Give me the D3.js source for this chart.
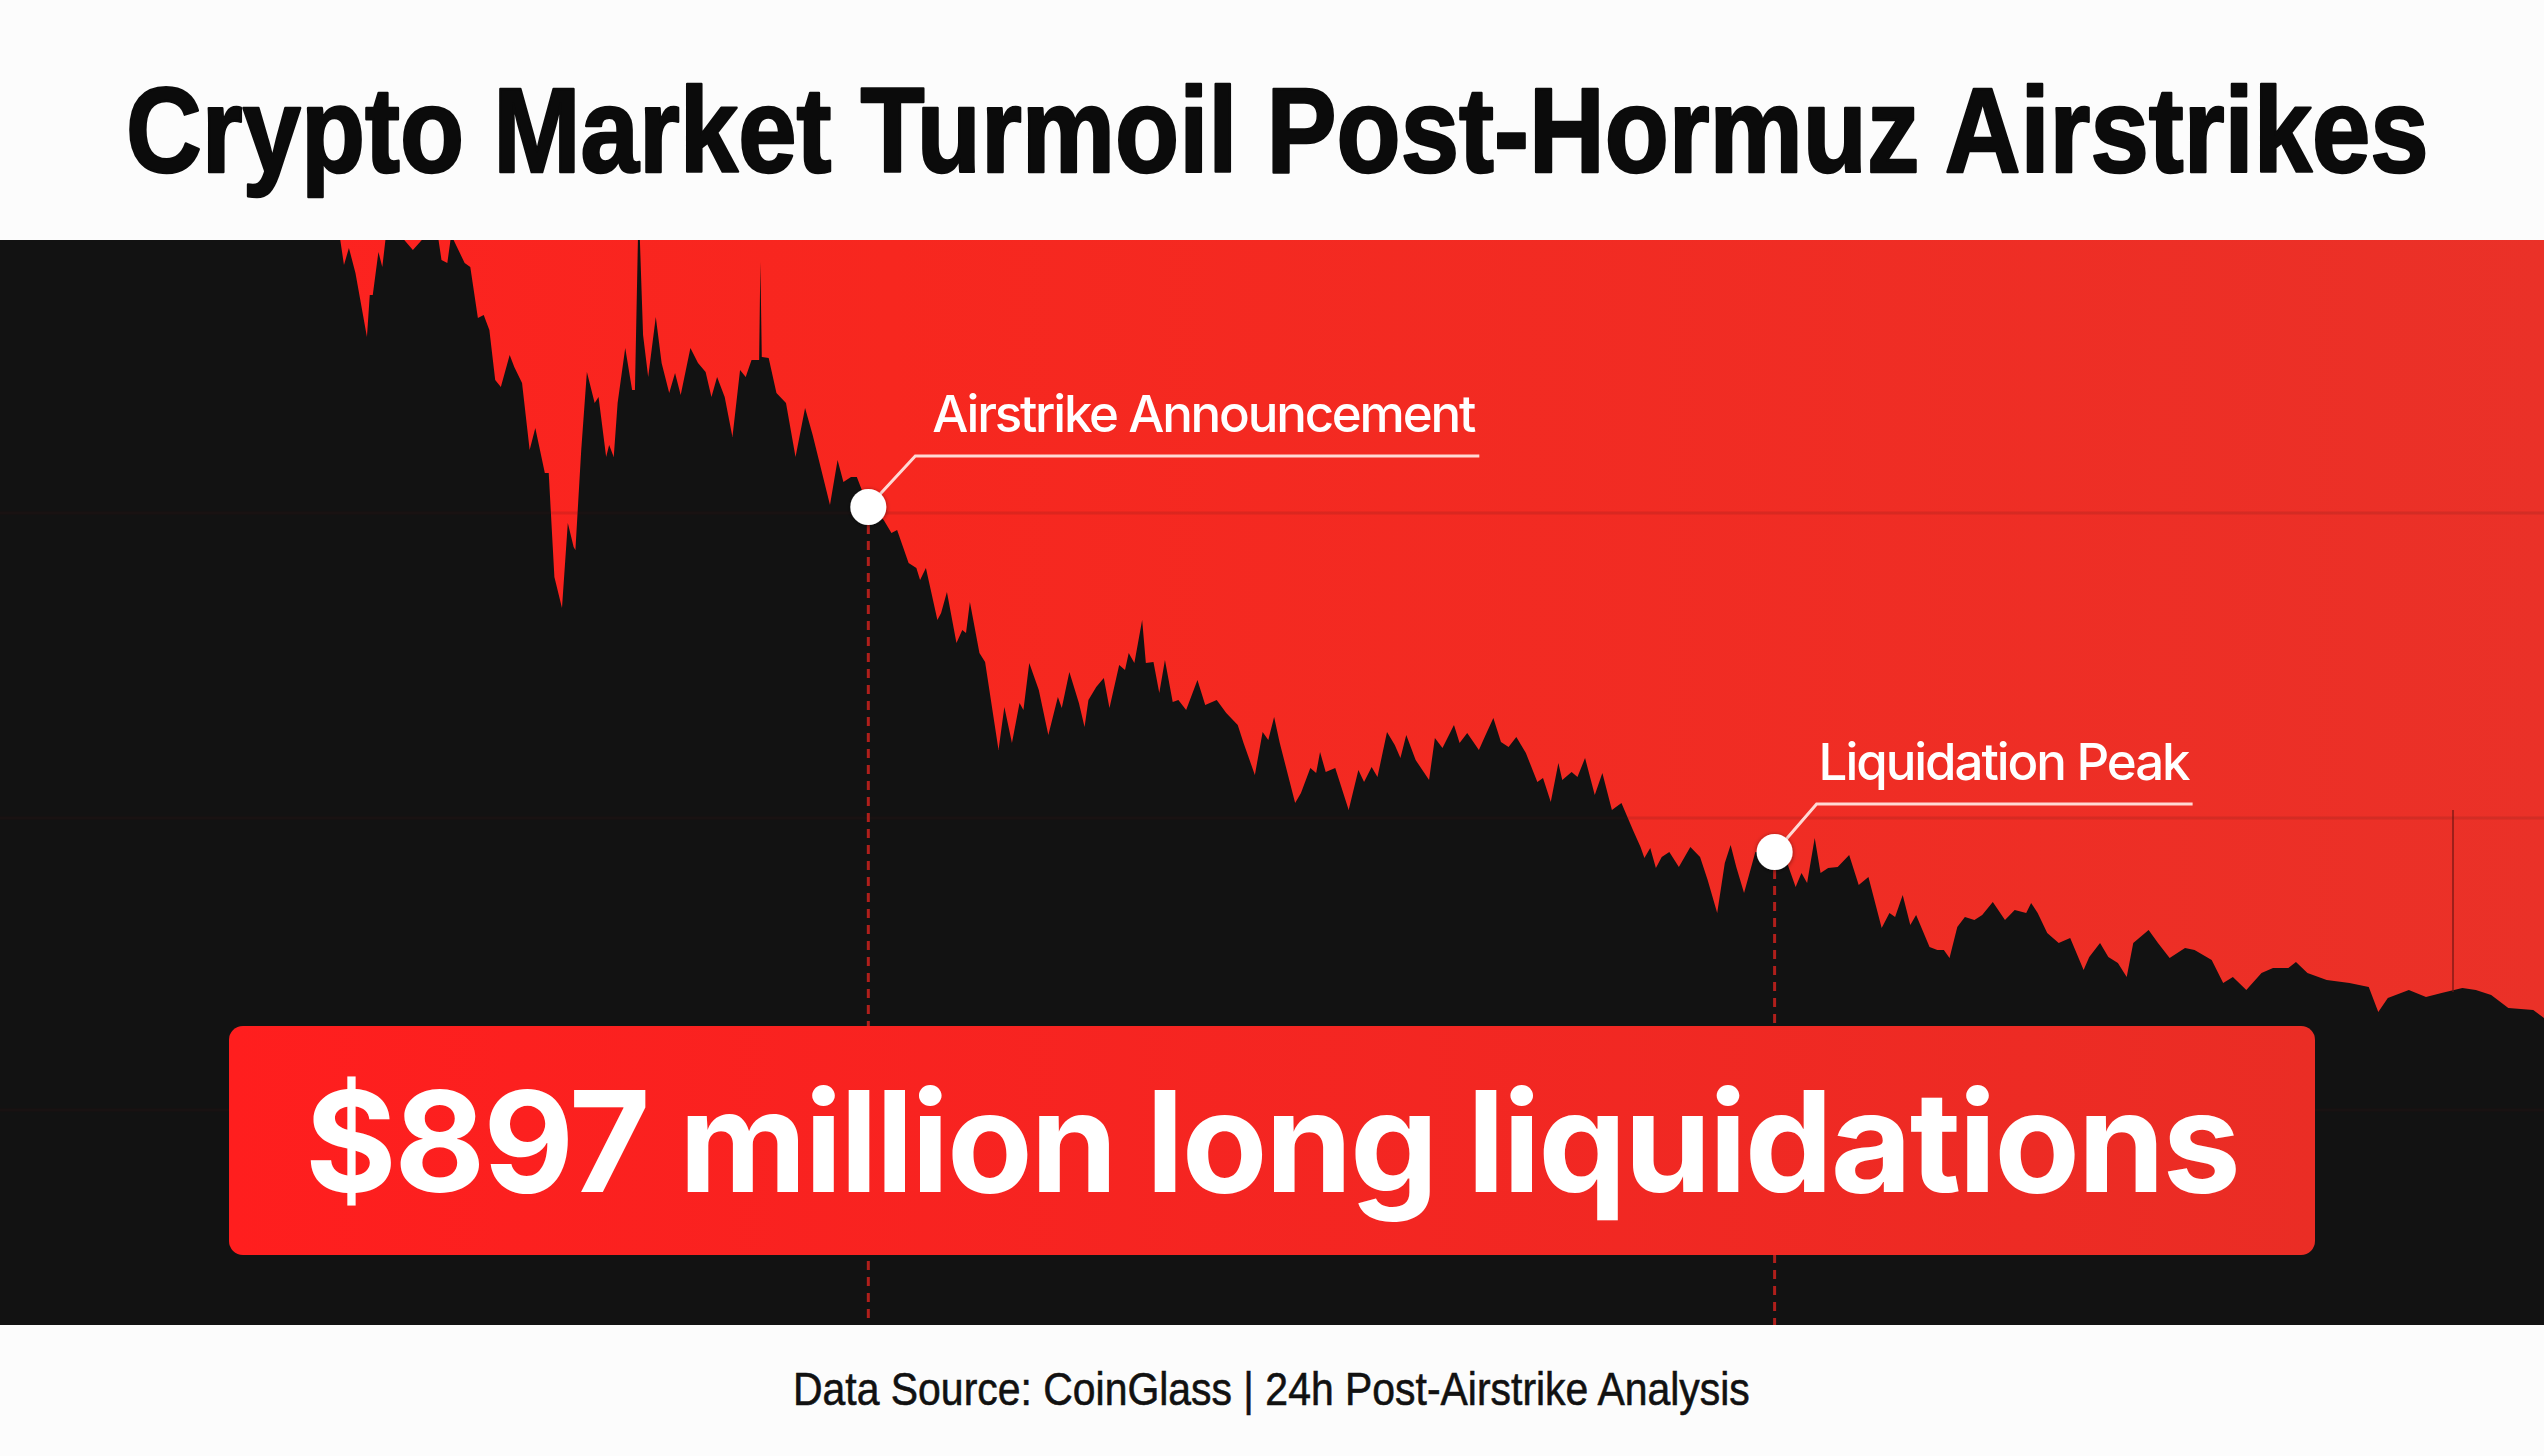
<!DOCTYPE html>
<html><head><meta charset="utf-8">
<script src="https://cdn.jsdelivr.net/npm/d3@7"></script>
<style>html,body{margin:0;padding:0;background:#fcfcfc;overflow:hidden}svg{display:block}</style>
</head><body><svg id="c" width="2544" height="1456"></svg>
<script>
// ---------------- DATA ----------------
const titleText = "Crypto Market Turmoil Post-Hormuz Airstrikes";
const footerText = "Data Source: CoinGlass | 24h Post-Airstrike Analysis";
const calloutText = "$897 million long liquidations";

// [minutes since window start, price USD]
const priceSeries = [
[0,70950],[170,70950],[191.3,70950],[192.6,70850],[194.7,70600],[197.5,70770],[201.2,70520],[207.7,69880],[209.3,70300],[211.0,70300],
[214.2,70730],[216.4,70580],[218.5,70900],[226.4,70900],[233.7,70750],[241.3,70900],[247.8,70900],[249.9,70650],[253.2,70620],[255.4,70900],
[263.0,70620],[266.2,70580],[270.5,70070],[273.8,70100],[277.0,69950],[280.3,69450],[283.5,69380],[288.5,69700],[291.1,69580],[295.5,69420],
[299.8,68750],[303.0,68970],[308.4,68520],[310.6,68520],[313.8,67480],[318.1,67170],[321.4,68020],[324.7,67780],[325.7,67750],[329.0,68750],
[332.2,69530],[336.6,69220],[338.8,69280],[343.1,68680],[344.8,68800],[347.4,68680],[349.6,69220],[353.9,69770],[357.8,69350],[359.4,69350],
[361.2,70950],[362.0,70950],[364.0,69900],[366.9,69480],[371.2,70080],[374.5,69620],[378.8,69320],[382.1,69520],[385.3,69300],[390.8,69770],
[395.1,69620],[399.4,69530],[402.7,69280],[405.9,69480],[410.2,69280],[414.6,68880],[418.9,69550],[422.1,69480],[425.4,69650],[429.7,69650],
[430.4,70630],[431.2,69680],[435.1,69670],[439.5,69320],[444.9,69220],[450.3,68680],[455.7,69170],[460.0,68900],[469.8,68200],[474.1,68650],
[477.4,68430],[481.7,68480],[485.0,68480],[491.5,68180],[500.2,68050],[504.6,67920],[507.8,67950],[514.3,67620],[518.7,67570],[520.8,67450],
[524.1,67570],[530.6,67050],[532.7,67120],[536.0,67330],[541.4,66820],[544.7,66950],[546.8,66920],[549.0,67230],[554.4,66720],[557.6,66630],
[565.2,65750],[568.5,66180],[572.8,65820],[577.1,66220],[579.3,66150],[582.6,66620],[588.0,66350],[593.4,65900],[598.8,66280],[601.0,66170],
[605.3,66530],[610.7,66220],[613.9,65980],[616.1,66250],[620.5,66380],[624.8,66470],[628.0,66170],[633.5,66600],[636.8,66550],[638.9,66720],
[642.1,66620],[646.5,67050],[648.6,66620],[652.9,66630],[656.2,66320],[659.4,66650],[663.8,66230],[667.0,66250],[671.4,66150],[677.8,66450],
[682.2,66200],[688.7,66250],[694.1,66120],[700.6,66000],[703.9,65820],[710.3,65500],[714.7,65930],[717.9,65850],[721.2,66080],[724.4,65820],
[733.1,65220],[736.4,65320],[741.7,65570],[745.0,65520],[747.2,65730],[750.4,65530],[755.8,65570],[763.4,65150],[768.9,65550],[772.1,65430],
[776.4,65580],[779.7,65480],[785.1,65930],[789.5,65800],[792.7,65670],[796.0,65900],[801.3,65650],[808.9,65450],[812.2,65870],[816.5,65770],
[823.0,66000],[826.2,65820],[830.5,65920],[837.1,65750],[840.9,65900],[845.3,66070],[849.6,65830],[853.9,65780],[858.3,65880],[863.7,65720],
[870.2,65430],[873.4,65470],[877.8,65230],[882.1,65620],[884.3,65450],[889.6,65530],[892.9,65480],[897.2,65670],[902.7,65300],[907.0,65520],
[912.4,65150],[917.8,65220],[924.3,64950],[928.6,64780],[930.8,64670],[934.1,64770],[937.3,64570],[940.6,64680],[944.9,64730],[950.3,64580],
[956.8,64780],[962.3,64680],[966.6,64450],[972.0,64120],[976.3,64620],[979.6,64800],[982.8,64580],[987.2,64320],[993.6,64730],[1004.5,64730],
[1011.0,64650],[1016.4,64380],[1019.7,64520],[1022.9,64420],[1027.2,64870],[1030.5,64520],[1034.8,64570],[1040.2,64580],[1046.7,64700],[1052.1,64400],
[1057.6,64480],[1065.1,63970],[1069.5,64120],[1072.7,64080],[1077.0,64300],[1081.3,64000],[1084.6,64100],[1092.2,63780],[1096.6,63750],[1100.3,63750],
[1103.5,63670],[1107.9,63980],[1112.2,64080],[1117.6,64050],[1122.0,64100],[1128.0,64230],[1134.9,64050],[1140.4,64150],[1146.9,64120],[1149.7,64220],
[1153.4,64120],[1158.8,63920],[1165.3,63820],[1171.8,63870],[1179.4,63550],[1182.6,63680],[1188.7,63820],[1193.4,63680],[1198.8,63620],[1203.8,63480],
[1207.5,63820],[1216.2,63950],[1221.5,63820],[1228.1,63670],[1236.8,63770],[1242.2,63750],[1251.9,63650],[1258.4,63420],[1263.9,63480],[1271.5,63350],
[1280.1,63520],[1286.6,63570],[1295.3,63570],[1299.6,63630],[1306.1,63520],[1317.0,63450],[1329.9,63420],[1340.8,63380],[1346.2,63130],[1351.6,63270],
[1363.5,63350],[1373.2,63280],[1382.0,63320],[1393.8,63370],[1401.4,63350],[1410.1,63300],[1419.8,63170],[1433.9,63150],[1440,63070]
];

const annotationLabels  = ["Airstrike Announcement", "Liquidation Peak"];
const annotationMinutes = [491.5, 1004.5];
const annotationPrices  = [68180, 64730];

const gridPrices = [62150, 65070, 68120];
const markerMinute = 1388.5;
const markerPrices = [63330, 65150];

// ---------------- LAYOUT ----------------
const W = 2544, H = 1456;
const chartTop = 240, chartBottom = 1325;
const svg = d3.select("#c");

const x = d3.scaleLinear().domain([0, 1440]).range([0, W]);
const y = d3.scaleLinear().domain([60000, 70850]).range([chartBottom, chartTop]);

function fitSpacing(t, width) {
  const w = t.node().getComputedTextLength();
  const n = t.text().length;
  t.attr("letter-spacing", (width - w) / (n - 1));
}
function fitScale(t, x0, base, width) {
  const w = t.node().getComputedTextLength();
  t.attr("transform", `translate(${x0},${base}) scale(${width / w},1)`);
}

function draw() {
  const defs = svg.append("defs");
  const bg = defs.append("linearGradient").attr("id", "bgGrad").attr("x1", 0).attr("x2", 1).attr("y1", 0).attr("y2", 0);
  bg.append("stop").attr("offset", "0%").attr("stop-color", "#ff2020");
  bg.append("stop").attr("offset", "35%").attr("stop-color", "#f7271f");
  bg.append("stop").attr("offset", "100%").attr("stop-color", "#ea3128");
  const bx = defs.append("linearGradient").attr("id", "boxGrad").attr("x1", 0).attr("x2", 1).attr("y1", 0).attr("y2", 0);
  bx.append("stop").attr("offset", "0%").attr("stop-color", "#ff1e1e");
  bx.append("stop").attr("offset", "100%").attr("stop-color", "#ea2d25");
  defs.append("clipPath").attr("id", "clip").append("rect")
    .attr("x", 0).attr("y", chartTop).attr("width", W).attr("height", chartBottom - chartTop);
  const sh = defs.append("filter").attr("id", "sh").attr("x", "-50%").attr("y", "-50%").attr("width", "200%").attr("height", "200%");
  sh.append("feDropShadow").attr("dx", 0).attr("dy", 1).attr("stdDeviation", 2).attr("flood-color", "#000").attr("flood-opacity", 0.5);

  svg.append("rect").attr("width", W).attr("height", H).attr("fill", "#fcfcfc");

  const chart = svg.append("g").attr("clip-path", "url(#clip)");
  chart.append("rect").attr("x", 0).attr("y", chartTop).attr("width", W).attr("height", chartBottom - chartTop).attr("fill", "url(#bgGrad)");

  const area = d3.area().x(d => x(d[0])).y0(chartBottom).y1(d => y(d[1])).curve(d3.curveLinear);
  chart.append("path").datum(priceSeries).attr("d", area).attr("fill", "#121212");

  chart.selectAll("line.grid").data(gridPrices).join("line").attr("class", "grid")
    .attr("x1", 0).attr("x2", W).attr("y1", d => y(d)).attr("y2", d => y(d))
    .attr("stroke", "#4a1512").attr("stroke-opacity", 0.14).attr("stroke-width", 3);

  chart.append("line").attr("x1", x(markerMinute)).attr("x2", x(markerMinute))
    .attr("y1", y(markerPrices[1])).attr("y2", y(markerPrices[0]))
    .attr("stroke", "#6a1410").attr("stroke-opacity", 0.6).attr("stroke-width", 2);

  const ann = annotationLabels.map((t, i) => ({ t, m: annotationMinutes[i], p: annotationPrices[i] }));
  const elbowDx = [47, 42], elbowDy = [-51, -48], labelDx = [17, 2], labelW = [544, 372], lineExtra = [3, 2];

  ann.forEach((a) => {
    const px = x(a.m), py = y(a.p);
    chart.append("line").attr("x1", px).attr("x2", px).attr("y1", py + 18).attr("y2", chartBottom)
      .attr("stroke", "#b01f1b").attr("stroke-width", 3).attr("stroke-dasharray", "9,7");
  });

  ann.forEach((a, i) => {
    const px = x(a.m), py = y(a.p);
    const ex = px + elbowDx[i], ey = py + elbowDy[i];
    const lx = ex + labelDx[i];
    svg.append("polyline")
      .attr("points", `${px + 10},${py - 11} ${ex},${ey} ${lx + labelW[i] + lineExtra[i]},${ey}`)
      .attr("fill", "none").attr("stroke", "#ffd9d4").attr("stroke-width", 3);
    svg.append("circle").attr("cx", px).attr("cy", py).attr("r", 18)
      .attr("fill", "#ffffff").attr("filter", "url(#sh)");
    const t = svg.append("text").text(a.t).attr("x", lx).attr("y", ey - 24)
      .attr("font-family", "Inter, 'Noto Sans', sans-serif").attr("font-weight", 500)
      .attr("font-size", 51).attr("fill", "#ffffff");
    fitSpacing(t, labelW[i]);
  });

  svg.append("rect").attr("x", 229).attr("y", 1026).attr("width", 2086).attr("height", 229)
    .attr("rx", 14).attr("fill", "url(#boxGrad)");
  const ct = svg.append("text").text(calloutText).attr("x", 305).attr("y", 1192)
    .attr("font-family", "Inter, 'Noto Sans', sans-serif").attr("font-weight", 700)
    .attr("font-size", 140).attr("fill", "#ffffff");
  fitSpacing(ct, 1936);

  const tt = svg.append("text").text(titleText)
    .attr("font-family", "'Liberation Sans', Arial, sans-serif").attr("font-weight", 700)
    .attr("font-size", 120).attr("fill", "#0b0b0b")
    .attr("stroke", "#0b0b0b").attr("stroke-width", 2.5).attr("stroke-linejoin", "round");
  fitScale(tt, 126, 172, 2303);

  const ft = svg.append("text").text(footerText)
    .attr("font-family", "'Liberation Sans', Arial, sans-serif").attr("font-weight", 400)
    .attr("font-size", 47).attr("fill", "#111111")
    .attr("stroke", "#111111").attr("stroke-width", 0.6);
  fitScale(ft, 793, 1405, 957);
}

draw();
</script>
</body></html>
